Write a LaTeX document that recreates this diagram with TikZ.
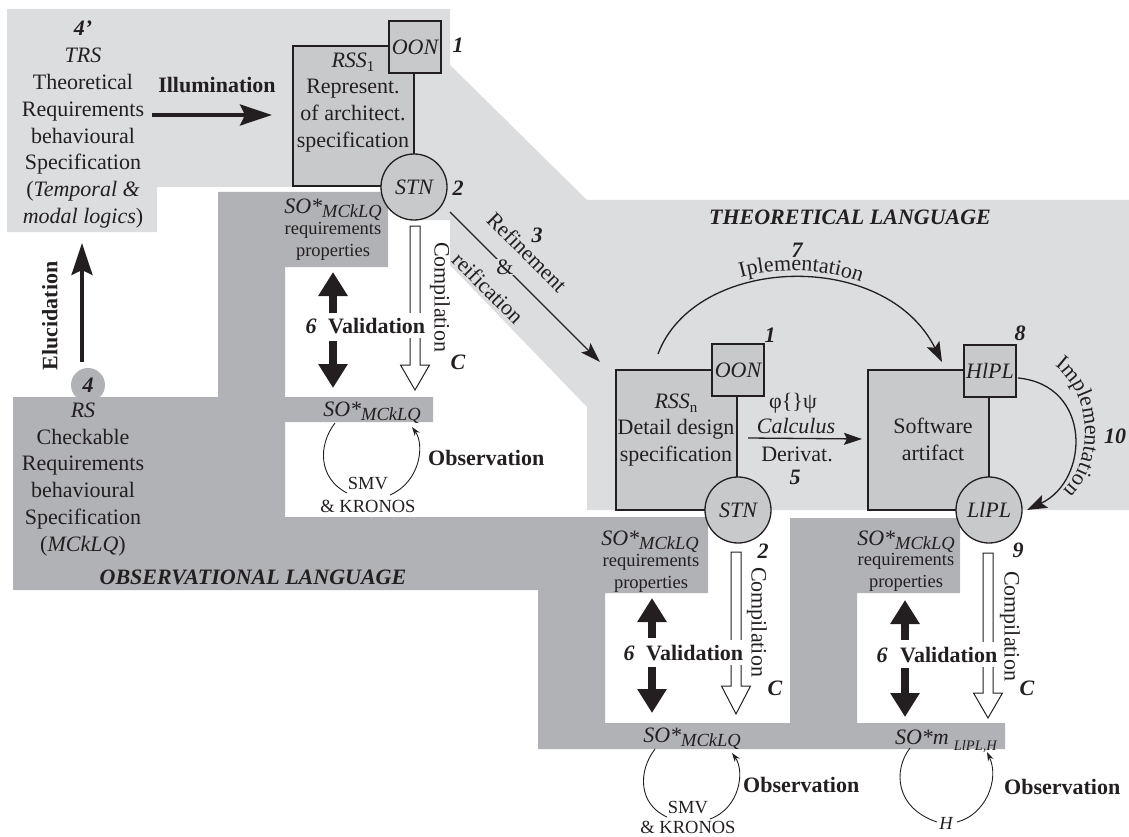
\documentclass[tikz,border=0pt]{standalone}
\usepackage{fontspec}
\setmainfont{Liberation Serif}
\usetikzlibrary{arrows.meta,decorations.text}
\definecolor{lightreg}{HTML}{DCDDDF}
\definecolor{darkreg}{HTML}{B1B2B5}
\definecolor{boxfill}{HTML}{C8C9CB}
\definecolor{ink}{HTML}{231F20}
\newcommand{\SOsub}[1]{\textit{SO*}\raisebox{-4pt}{\fontsize{18.5}{18.5}\selectfont\itshape #1}}
\newcommand{\comparr}[4]{\draw[comparrow] (#1-5,#2) -- (#1+5,#2) -- (#1+5,#3) -- (#1+14.5,#3) -- (#1,#4) -- (#1-14.5,#3) -- (#1-5,#3) -- cycle;}
\tikzset{
  txt/.style={inner sep=0pt, text=ink, font=\fontsize{22}{26.8}\selectfont, align=center},
  smalltxt/.style={inner sep=0pt, text=ink, font=\fontsize{18.5}{22}\selectfont, align=center},
  numlab/.style={inner sep=0pt, text=ink, font=\fontsize{22}{22}\selectfont\bfseries\itshape},
  boldlab/.style={inner sep=0pt, text=ink, font=\fontsize{22}{22}\selectfont\bfseries},
  vallab/.style={boldlab, fill=white, inner xsep=1pt, inner ysep=5pt},
  shapebox/.style={draw=ink, line width=1.3pt, fill=boxfill, inner sep=0pt},
  sqnode/.style={shapebox, minimum width=52pt, minimum height=52pt, font=\fontsize{22}{22}\selectfont\itshape, text=ink},
  cirnode/.style={shapebox, circle, minimum size=66pt, font=\fontsize{22}{22}\selectfont\itshape, text=ink},
  bigbox/.style={shapebox, minimum width=121pt, minimum height=140pt},
  thickarrow/.style={draw=ink, line width=3.5pt, -{Stealth[length=32pt,width=21pt,inset=5pt]}},
  valarrow/.style={draw=ink, line width=8pt, -{Triangle[length=24pt,width=28pt]}},
  thinarrow/.style={draw=ink, line width=1.3pt, -{Stealth[length=20pt,width=13pt,inset=4pt]}},
  cyclearc/.style={draw=ink, line width=0.9pt},
  cyclearrow/.style={draw=ink, line width=0.9pt, -{Stealth[length=9pt,width=6pt]}},
  comparrow/.style={draw=ink, line width=1pt, fill=white},
}
\begin{document}
\begin{tikzpicture}[x=1pt,y=-1pt]
\useasboundingbox (0,0) rectangle (1129,837);
% regions
\fill[lightreg] (7,9) -- (450,9) -- (450,65) -- (587,200) -- (1129,200) -- (1129,510) -- (587,510) -- (587,407) -- (450,265) -- (450,220) -- (414,220) -- (414,187) -- (157,187) -- (157,232) -- (7,232) -- cycle;
\fill[darkreg] (218,192) -- (388,192) -- (388,267) -- (285,267) -- (285,397) -- (433,397) -- (433,422) -- (285,422) -- (285,517) -- (708,517) -- (708,593) -- (605,593) -- (605,723) -- (790,723) -- (790,518) -- (960,518) -- (960,593) -- (857,593) -- (857,723) -- (1005,723) -- (1005,749) -- (538,749) -- (538,590) -- (13,590) -- (13,397) -- (218,397) -- cycle;
\node[circle, fill=darkreg, minimum size=34pt, numlab] (four) at (88,385) {4};

% region titles
\node[numlab, anchor=base] (theolang) at (850,224) {THEORETICAL LANGUAGE};
\node[numlab, anchor=base] (obslang) at (253,584) {OBSERVATIONAL LANGUAGE};

% TRS block
\node[txt, anchor=north] (trs) at (83,21) {\textbf{\textit{4'}}\\\textit{TRS}\\Theoretical\\Requirements\\behavioural\\Specification\\(\textit{Temporal \&}\\\textit{modal logics})};
\node[boldlab, anchor=base] (illum) at (217,93) {Illumination};
\coordinate (illS) at (152,115);
\coordinate (illE) at (272,115);
\draw[thickarrow] (illS) -- (illE);

% RS block
\node[txt, anchor=north] (rs) at (83,402.5) {\textit{RS}\\Checkable\\Requirements\\behavioural\\Specification\\(\textit{MCkLQ})};
\coordinate (eluS) at (82,362);
\coordinate (eluE) at (82,243);
\draw[thickarrow] (eluS) -- (eluE);
\node[boldlab, rotate=90] (elu) at (50,316) {Elucidation};

% RSS1
\node[bigbox] (rss1) at (353.5,116) {};
\node[sqnode] (oon1) at (415,47) {OON};
\node[cirnode] (stn1) at (414,187) {STN};
\node[txt, anchor=north] (rss1txt) at (353,52.4) {\textit{RSS}\raisebox{-4pt}{\fontsize{15}{15}\selectfont 1}\\Represent.\\of architect.\\specification};
\node[numlab] (n1a) at (458,45) {1};
\node[numlab] (n2a) at (458,188) {2};

% RSSn
\node[bigbox] (rssn) at (676.5,440) {};
\node[sqnode] (oonn) at (738,370) {OON};
\node[cirnode] (stnn) at (738,510) {STN};
\node[txt, anchor=north] (rssntxt) at (676,393.4) {\textit{RSS}\raisebox{-4pt}{\fontsize{15}{15}\selectfont n}\\Detail design\\specification};
\node[numlab] (n1b) at (770,335) {1};
\node[numlab] (n2b) at (763,551) {2};

% Software artifact
\node[bigbox] (soft) at (928.5,440) {};
\node[sqnode] (hlpl) at (990,371) {HlPL};
\node[cirnode] (llpl) at (989,510) {LlPL};
\node[txt, anchor=north] (softtxt) at (933,418) {Software\\artifact};
\node[numlab] (n8) at (1020,333) {8};
\node[numlab] (n9) at (1018,550) {9};
\node[numlab] (n10) at (1115,436) {10};

% refinement
\coordinate (refS) at (450,212);
\coordinate (refE) at (600,362);
\draw[thinarrow] (refS) -- (refE);
\node[txt, rotate=-45] (refin) at (527,252) {Refinement};
\node[txt, fill=lightreg, inner sep=1pt] (amp) at (505,267) {\&};
\node[txt, rotate=-45] (reif) at (488,288) {reification};
\node[numlab] (n3) at (537,235) {3};

% calculus
\coordinate (calS) at (748,438);
\coordinate (calE) at (862,439);
\draw[draw=ink, line width=1.3pt, -{Stealth[length=18pt,width=12pt,inset=3pt]}] (calS) -- (calE);
\node[txt, anchor=base] (phi) at (793,408) {φ\{\}ψ};
\node[txt, anchor=base] (calc) at (796,433) {\textit{Calculus}};
\node[txt, anchor=base] (deriv) at (797,461) {Derivat.};
\node[numlab] (n5) at (795,477) {5};

% implementation 7
\coordinate (i7S) at (658,354);
\coordinate (i7E) at (942,362);
\draw[draw=ink, line width=1.3pt, -{Stealth[length=20pt,width=14pt,inset=4pt]}] (i7S) .. controls (695,255) and (885,248) .. (i7E);
\path[decorate, decoration={text along path, text={|\fontsize{22}{22}\selectfont\color{ink}|Iplementation}, text align=center}] (650,352) .. controls (688,246) and (893,239) .. (951,360);
\node[numlab] (n7) at (797,250) {7};

% implementation 10
\coordinate (i10S) at (1018,378);
\coordinate (i10E) at (1027,510);
\draw[draw=ink, line width=1.3pt, -{Stealth[length=20pt,width=14pt,inset=4pt]}] (i10S) .. controls (1092,385) and (1090,480) .. (i10E);
\path[decorate, decoration={text along path, text={|\fontsize{22}{22}\selectfont\color{ink}|Implementation}, text align=center}] (1025,355) .. controls (1100,362) and (1106,490) .. (1035,505);

% SO* boxes
\node[txt, anchor=base] (so1) at (333,213) {\SOsub{MCkLQ}};
\node[smalltxt, anchor=north] (rp1) at (333,222.5) {requirements\\properties};
\node[txt, anchor=base] (sob1) at (372,416) {\SOsub{MCkLQ}};
\node[txt, anchor=base] (so2) at (650,545) {\SOsub{MCkLQ}};
\node[smalltxt, anchor=north] (rp2) at (651,554.5) {requirements\\properties};
\node[txt, anchor=base] (sob2) at (692,742) {\SOsub{MCkLQ}};
\node[txt, anchor=base] (so3) at (906,545) {\SOsub{MCkLQ}};
\node[smalltxt, anchor=north] (rp3) at (906,553.5) {requirements\\properties};
\node[txt, anchor=base] (sob3) at (946,744) {\textit{SO*m}\hspace{5pt}\raisebox{-6pt}{\fontsize{14.5}{14.5}\selectfont\itshape LlPL,H}};

% compilation arrows
\comparr{415}{226}{365}{390}
\comparr{736}{552}{686}{714}
\comparr{988}{553}{693}{718}
\node[txt, rotate=-90] (comp1) at (440,297) {Compilation};
\node[txt, rotate=-90] (comp2) at (757,622) {Compilation};
\node[txt, rotate=-90] (comp3) at (1010,626) {Compilation};
\node[numlab] (c1) at (458,362) {C};
\node[numlab] (c2) at (775,688) {C};
\node[numlab] (c3) at (1027,688) {C};

% validation
\coordinate (v1a) at (333,313); \coordinate (v1t) at (333,272);
\coordinate (v1b) at (333,341); \coordinate (v1d) at (333,388);
\draw[valarrow] (v1a) -- (v1t); \draw[valarrow] (v1b) -- (v1d);
\node[numlab, anchor=base] (six1) at (311,333) {6};
\node[vallab, anchor=base west] (val1) at (327,333) {Validation};
\coordinate (v2a) at (652,638); \coordinate (v2t) at (652,598);
\coordinate (v2b) at (652,667); \coordinate (v2d) at (652,713);
\draw[valarrow] (v2a) -- (v2t); \draw[valarrow] (v2b) -- (v2d);
\node[numlab, anchor=base] (six2) at (629,660) {6};
\node[vallab, anchor=base west] (val2) at (645,660) {Validation};
\coordinate (v3a) at (905,640); \coordinate (v3t) at (905,600);
\coordinate (v3b) at (905,668); \coordinate (v3d) at (905,717);
\draw[valarrow] (v3a) -- (v3t); \draw[valarrow] (v3b) -- (v3d);
\node[numlab, anchor=base] (six3) at (882,662) {6};
\node[vallab, anchor=base west] (val3) at (899,662) {Validation};

% observation cycles
\draw[cyclearc] (335,423) .. controls (318,445) and (318,478) .. (347,493);
\draw[cyclearrow] (390,495) .. controls (420,482) and (425,445) .. (412,427);
\node[smalltxt, anchor=north, font=\fontsize{18.5}{23}\selectfont] (smv1) at (368,477) {SMV\\\& KRONOS};
\node[boldlab, anchor=base west] (obs1) at (428,465) {Observation};

\draw[cyclearc] (655,749) .. controls (638,771) and (638,804) .. (667,817);
\draw[cyclearrow] (710,819) .. controls (740,808) and (745,771) .. (732,753);
\node[smalltxt, anchor=north, font=\fontsize{18.5}{20.5}\selectfont] (smv2) at (688,801) {SMV\\\& KRONOS};
\node[boldlab, anchor=base west] (obs2) at (743,792) {Observation};

\draw[cyclearc] (910,748) .. controls (893,770) and (895,808) .. (937,822);
\draw[cyclearrow] (957,822) .. controls (985,815) and (1000,780) .. (987,752);
\node[smalltxt, font=\fontsize{18.5}{18.5}\selectfont\itshape] (hlab) at (946,823) {H};
\node[boldlab, anchor=base west] (obs3) at (1004,794) {Observation};
\end{tikzpicture}
\end{document}
